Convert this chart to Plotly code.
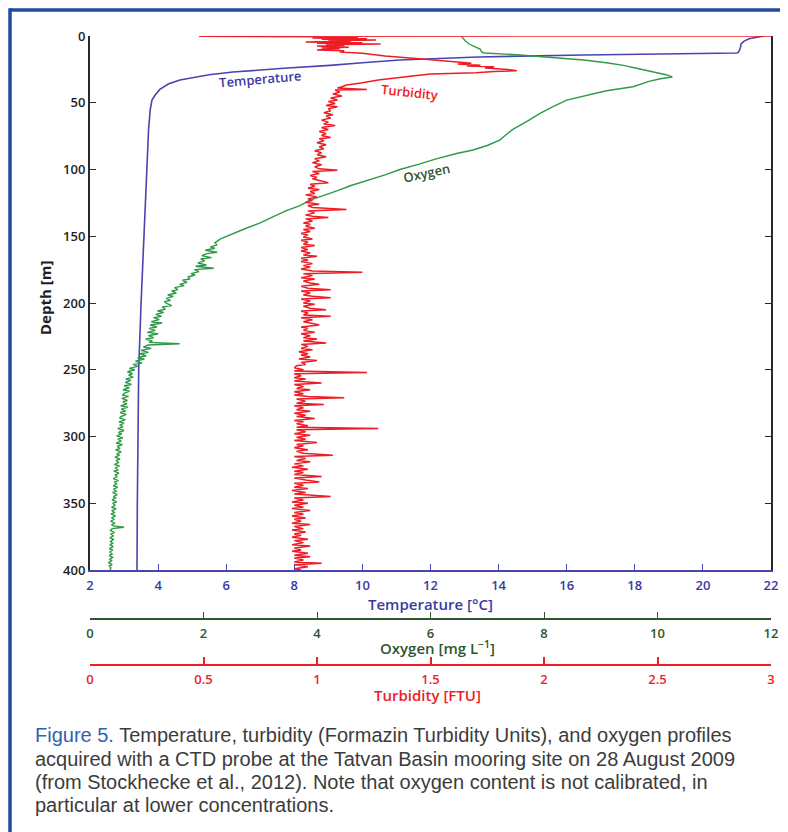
import plotly.graph_objects as go

# ---------------- data ----------------
temp_depth = [0, 2, 4, 6, 9, 12, 12.7, 13.3, 14.2, 15.7, 18, 20, 22, 24, 25.5, 27, 29, 31, 33,
              36, 40, 44, 48, 55, 70, 100, 122, 150, 200, 250, 300, 350, 400]
temp_c = [21.8, 21.35, 21.2, 21.12, 21.1, 21.05, 21.0, 19.0, 16.5, 13.4, 11.1, 10.0, 9.05, 7.8, 7.0,
          6.2, 5.5, 5.0, 4.64, 4.3, 4.05, 3.92, 3.82, 3.77, 3.72, 3.67, 3.63, 3.57, 3.5, 3.43, 3.4,
          3.39, 3.38]

oxygen_upper = [  # (depth m, oxygen mg/L), smooth upper part
    (0, 6.54), (2, 6.58), (4, 6.62), (6, 6.68), (8, 6.78), (9, 6.85), (10, 6.88), (12, 6.9),
    (12.7, 6.95), (14, 7.52), (16, 8.1), (18, 8.7), (20, 9.1), (22, 9.4), (24.7, 9.69), (27, 9.95),
    (29, 10.15), (30.7, 10.26), (32, 10.05), (34, 9.85), (36, 9.7), (38, 9.57), (41, 9.1), (44, 8.8),
    (48, 8.4), (53, 8.15), (58, 7.93), (64, 7.7), (70, 7.45), (74, 7.33), (78, 7.22), (82, 7.0),
    (85.4, 6.75), (88, 6.46), (92, 6.1), (96, 5.8), (100, 5.46), (104, 5.2), (108, 4.88), (112, 4.6),
    (116, 4.35), (120, 4.1), (123, 3.88), (127, 3.7), (131, 3.45), (135, 3.25), (140, 3.0),
    (144, 2.75), (148, 2.52), (152, 2.3), (155, 2.2),
]
oxygen_lower = [  # (depth m, oxygen mg/L), noisy deep part
    (156.5, 2.24), (158, 2.12), (159, 2.2), (160.5, 2.03), (162, 2.24), (163, 2.06), (164.5, 1.97),
    (166, 2.14), (167, 1.95), (168.5, 2.02), (170, 1.9), (171.5, 2.05), (172.5, 1.86),
    (174, 2.18), (175, 1.84), (176.5, 1.92), (178, 1.78), (179, 1.85), (180.5, 1.73), (182, 1.76),
    (183, 1.63), (184.5, 1.71), (186, 1.58), (187, 1.66), (188.5, 1.49), (190, 1.55), (191, 1.44),
    (192.5, 1.52), (194, 1.37), (195, 1.47), (196.5, 1.34), (198, 1.42), (199, 1.31), (200.5, 1.36),
    (202, 1.44), (203, 1.27), (204.5, 1.33), (206, 1.19), (207, 1.3), (208.5, 1.16), (210, 1.26),
    (211, 1.12), (212.5, 1.22), (214, 1.08), (215, 1.27), (216.5, 1.06), (218, 1.18), (219, 1.04),
    (220.5, 1.15), (222, 1.01), (223, 1.2), (224.5, 1.03), (226, 1.12), (227, 0.98), (228.5, 1.1),
    (229.5, 1.04), (230.5, 1.58), (231.5, 1.02), (233, 0.94), (234, 1.08), (235.5, 0.9),
    (237, 1.03), (238, 0.88), (239.5, 0.99), (241, 0.84), (242, 0.96), (243.5, 0.8), (245, 0.92),
    (246, 0.76), (247.5, 0.84), (249, 0.69), (250, 0.79), (251.5, 0.66), (253, 0.75), (254, 0.68),
    (255.5, 0.76), (257, 0.63), (258, 0.72), (259.5, 0.62), (261, 0.73), (262, 0.6), (263.5, 0.69),
    (265, 0.58), (266, 0.7), (267.5, 0.61), (269, 0.57), (270, 0.68), (271.5, 0.56), (273, 0.66),
    (274, 0.58), (275.5, 0.65), (277, 0.54), (278, 0.67), (279.5, 0.55), (281, 0.63), (282, 0.53),
    (283.5, 0.64), (285, 0.55), (286, 0.52), (287.5, 0.62), (289, 0.51), (290, 0.6), (291.5, 0.53),
    (293, 0.58), (294, 0.49), (295.5, 0.6), (297, 0.5), (298, 0.56), (299.5, 0.47), (301, 0.58),
    (302, 0.49), (303.5, 0.55), (305, 0.46), (306, 0.57), (307.5, 0.48), (309, 0.53), (310, 0.45),
    (311.5, 0.55), (313, 0.47), (314, 0.52), (315.5, 0.44), (317, 0.53), (318, 0.46), (319.5, 0.5),
    (321, 0.43), (322, 0.52), (323.5, 0.45), (325, 0.49), (326, 0.42), (327.5, 0.51), (329, 0.44),
    (330, 0.48), (331.5, 0.41), (333, 0.5), (334, 0.43), (335.5, 0.47), (337, 0.41), (338, 0.49),
    (339.5, 0.42), (341, 0.46), (342, 0.4), (343.5, 0.48), (345, 0.41), (346, 0.45), (347.5, 0.39),
    (349, 0.47), (350, 0.4), (351.5, 0.44), (353, 0.38), (354, 0.46), (355.5, 0.39), (357, 0.43),
    (358, 0.37), (359.5, 0.45), (361, 0.38), (362, 0.42), (363.5, 0.37), (365, 0.44), (366, 0.38),
    (367, 0.41), (368, 0.6), (369, 0.39), (370.5, 0.36), (372, 0.43), (373, 0.37), (374.5, 0.41),
    (376, 0.35), (377, 0.42), (378.5, 0.36), (380, 0.4), (381, 0.35), (382.5, 0.41), (384, 0.34),
    (385, 0.4), (386.5, 0.35), (388, 0.39), (389, 0.34), (390.5, 0.4), (392, 0.35), (393, 0.38),
    (394.5, 0.33), (396, 0.39), (397, 0.34), (398.5, 0.37), (400, 0.35),
]

turbidity_upper = [  # (depth m, turbidity FTU), surface layer and peak
    (0.0, 3.0), (0.2, 0.48), (0.5, 1.05), (1, 1.18), (1.5, 0.98), (2, 1.22), (2.5, 1.02), (3, 1.26),
    (3.5, 1.05), (4, 1.15), (4.5, 0.95), (5, 1.2), (5.5, 1.0), (6, 1.28), (6.5, 1.04), (7, 1.12),
    (7.5, 1.0), (8, 1.08), (8.5, 1.14), (9, 1.02), (9.5, 1.1), (10, 1.06), (10.5, 1.0), (11, 1.12),
    (12, 1.1), (13, 1.2), (15, 1.3), (17, 1.45), (18.5, 1.55), (19.5, 1.6), (20.5, 1.68), (21, 1.62),
    (22, 1.72), (22.5, 1.66), (23, 1.78), (24, 1.74), (25, 1.84), (26, 1.88), (26.5, 1.78),
    (27.5, 1.7), (28.5, 1.5), (30, 1.42), (31.5, 1.34), (33, 1.27), (35, 1.2), (36.7, 1.13),
    (38, 1.11), (39, 1.09), (40, 1.22), (40.5, 1.08),
]
turbidity_lower = [  # (depth m, turbidity FTU), noisy deep part with spikes
    (42, 1.10), (43.5, 1.07), (45, 1.11), (46.5, 1.06), (48, 1.09), (49, 1.05), (50.5, 1.08),
    (52, 1.04), (53, 1.09), (54.5, 1.05), (56, 1.06), (57.5, 1.03), (59, 1.07), (60, 1.04),
    (61.5, 1.06), (63, 1.02), (64.5, 1.05), (66, 1.03), (67, 1.08), (68.5, 1.02), (70, 1.05),
    (71.5, 1.01), (73, 1.04), (74.5, 1.02), (76, 1.06), (77, 1.01), (78.5, 1.03), (80, 1.0),
    (81.5, 1.04), (83, 1.01), (84.5, 1.03), (86, 0.99), (87.5, 1.02), (89, 1.0), (90.5, 1.04),
    (92, 0.99), (93.5, 1.01), (95, 0.98), (96.5, 1.02), (98, 0.99), (99.5, 1.01), (100.5, 1.09),
    (101.5, 0.98), (103, 1.01), (104.5, 0.97), (106, 1.0), (107, 0.98), (108.5, 1.02), (110, 1.05),
    (111, 0.97), (112.5, 0.99), (114, 0.96), (115, 1.01), (116.5, 0.97), (118, 0.99), (119, 0.95),
    (120.5, 1.0), (122, 0.96), (123, 0.98), (124.5, 0.95), (126, 1.01), (127, 0.96), (128.5, 0.98),
    (130, 1.13), (131, 0.96), (132.5, 0.99), (134, 0.95), (135, 0.98), (136, 1.05), (137, 0.95),
    (138.5, 0.98), (140, 0.94), (141, 0.97), (142.5, 0.95), (144, 0.99), (145, 0.94), (146.5, 0.97),
    (148, 0.93), (149, 0.96), (150.5, 0.94), (152, 0.98), (153, 0.93), (154.5, 0.96), (156, 0.94),
    (157, 0.99), (158.5, 0.93), (160, 0.96), (161, 0.93), (162.5, 0.97), (164, 0.94), (165, 1.0),
    (166.5, 0.93), (168, 0.96), (169, 0.93), (170.5, 0.98), (172, 0.94), (173, 0.97), (174.5, 0.93),
    (176, 0.98), (177, 1.2), (178, 0.94), (179.5, 0.98), (181, 0.93), (182, 0.99), (183.5, 0.94),
    (185, 0.97), (186, 1.01), (187.5, 0.93), (189, 0.96), (190, 1.06), (191, 0.93), (192.5, 0.97),
    (194, 0.94), (195, 0.98), (196, 1.06), (197, 0.93), (198.5, 0.97), (200, 0.94), (201, 0.99),
    (202.5, 0.94), (204, 0.97), (205, 1.04), (206, 0.93), (207.5, 0.96), (209, 0.94), (210, 1.06),
    (211, 0.93), (212.5, 0.98), (214, 0.94), (215, 0.97), (216.5, 1.01), (218, 0.93), (219, 0.96),
    (220.5, 0.94), (222, 0.99), (223, 0.93), (224.5, 0.97), (226, 0.94), (227, 1.0), (228.5, 0.94),
    (230, 1.04), (231, 0.93), (232.5, 0.96), (234, 0.93), (235, 0.98), (236.5, 0.92), (238, 0.96),
    (239, 0.93), (240.5, 0.97), (242, 0.92), (243, 1.0), (244.5, 0.93), (246, 0.95), (247, 0.91),
    (248.5, 0.9), (250, 0.94), (251, 0.9), (252, 1.22), (253, 0.9), (254.5, 0.93), (256, 0.9),
    (257, 0.95), (258.5, 0.9), (260, 1.02), (261, 0.9), (262.5, 0.94), (264, 0.91), (265, 0.97),
    (266.5, 0.9), (268, 0.94), (269, 0.9), (270, 0.96), (271, 1.12), (272, 0.91), (273.5, 0.95),
    (275, 0.91), (276, 1.03), (277, 0.9), (278.5, 0.94), (280, 0.91), (281, 0.97), (282.5, 0.9),
    (284, 0.95), (285, 0.91), (286.5, 0.99), (288, 0.9), (289, 0.94), (290.5, 0.91), (292, 0.96),
    (293, 0.91), (294, 1.27), (295, 0.91), (296.5, 0.95), (298, 0.9), (299, 0.97), (300.5, 0.91),
    (302, 0.95), (303, 0.9), (304.5, 1.0), (306, 0.91), (307, 0.94), (308.5, 0.9), (310, 0.96),
    (311, 0.91), (312.5, 0.94), (314, 1.07), (315, 0.9), (316.5, 0.95), (318, 0.91), (319, 0.97),
    (320.5, 0.9), (322, 0.94), (323, 0.89), (324.5, 0.96), (326, 0.9), (327, 0.94), (328.5, 0.9),
    (330, 1.02), (331, 0.9), (332.5, 0.95), (334, 1.01), (335, 0.9), (336.5, 0.94), (338, 0.9),
    (339, 0.96), (340.5, 0.89), (342, 0.95), (343, 0.9), (344, 0.98), (345, 1.06), (346, 0.9),
    (347.5, 0.94), (349, 0.89), (350, 0.96), (351.5, 0.9), (353, 0.94), (354, 0.89), (355.5, 0.97),
    (357, 0.9), (358, 0.94), (359.5, 0.89), (361, 0.95), (362, 0.9), (363.5, 0.93), (365, 0.89),
    (366, 0.97), (367.5, 0.9), (369, 0.94), (370, 0.89), (371.5, 0.95), (373, 0.9), (374, 0.93),
    (375.5, 0.89), (377, 0.96), (378, 0.9), (379.5, 0.94), (381, 0.89), (382, 0.97), (383.5, 0.9),
    (385, 0.93), (386, 0.89), (387.5, 0.96), (389, 0.9), (390, 0.97), (391, 0.9), (392.5, 0.94),
    (394, 0.9), (395, 1.02), (396, 0.9), (397.5, 0.96), (399, 0.9), (400, 0.93),
]

temp_ticks = [2, 4, 6, 8, 10, 12, 14, 16, 18, 20, 22]
oxygen_ticks = [0, 2, 4, 6, 8, 10, 12]
turb_ticks = [0, 0.5, 1, 1.5, 2, 2.5, 3]
turb_ticklabels = ["0", "0.5", "1", "1.5", "2", "2.5", "3"]
depth_ticks = [0, 50, 100, 150, 200, 250, 300, 350, 400]

caption_lines = [
    "<span style='color:#2f62b0'>Figure 5.</span> Temperature, turbidity (Formazin Turbidity Units), and oxygen profiles",
    "acquired with a CTD probe at the Tatvan Basin mooring site on 28 August 2009",
    "(from Stockhecke et al., 2012). Note that oxygen content is not calibrated, in",
    "particular at lower concentrations.",
]

# ---------------- layout geometry ----------------
# the page body adds an 8 px margin, so the figure is shifted by 8 px
OFF = 8
W, H = 788 - OFF, 832 - OFF
ML, MT, MB = 90 - OFF, 36 - OFF, 110
MR = W - (771 - OFF)
PW = W - ML - MR
PH = H - MT - MB
PLOT_BOTTOM = 570


def fx(px):  # reference page pixel -> paper fraction
    return (px - OFF - ML) / PW


def fy(py):
    return (H - MB - (py - OFF)) / PH


TEMP_C = "#4a44b0"
TEMP_TXT = "#3b3aa3"
OXY_C = "#2e9a45"
OXY_TXT = "#2f552f"
TURB_C = "#ee1c25"
DARK = "#2a2a2a"
FONT = "Open Sans"

ox_d, ox_v = zip(*(oxygen_upper + oxygen_lower))
tu_d, tu_v = zip(*(turbidity_upper + turbidity_lower))

fig = go.Figure()
fig.add_trace(go.Scatter(x=temp_c, y=temp_depth, mode="lines", xaxis="x", yaxis="y",
                         line=dict(color=TEMP_C, width=1.6), showlegend=False))
fig.add_trace(go.Scatter(x=list(ox_v), y=list(ox_d), mode="lines", xaxis="x2", yaxis="y",
                         line=dict(color=OXY_C, width=1.4), showlegend=False))
fig.add_trace(go.Scatter(x=list(tu_v), y=list(tu_d), mode="lines", xaxis="x3", yaxis="y",
                         line=dict(color=TURB_C, width=1.5), showlegend=False))

tickfont_common = dict(family=FONT, size=13, weight=600)

fig.update_layout(
    width=W, height=H,
    margin=dict(l=ML, r=MR, t=MT, b=MB, autoexpand=False),
    paper_bgcolor="white", plot_bgcolor="white",
    xaxis=dict(range=[2, 22], domain=[0, 1], anchor="y", side="bottom",
               tickvals=temp_ticks, ticks="inside", ticklen=6, tickwidth=1.3, tickcolor=TEMP_C,
               showline=True, linecolor=TEMP_C, linewidth=2, showgrid=False, zeroline=False,
               tickfont=dict(color=TEMP_TXT, **tickfont_common), ticklabelstandoff=2,
               automargin=False),
    xaxis4=dict(range=[2, 22], overlaying="x", anchor="y", side="top",
                tickvals=temp_ticks, ticks="inside", ticklen=6, tickwidth=1.3, tickcolor=DARK,
                showline=True, linecolor=DARK, linewidth=2, showgrid=False, zeroline=False,
                showticklabels=False, automargin=False),
    xaxis2=dict(range=[0, 12], overlaying="x", anchor="free", position=fy(619), side="bottom",
                tickvals=oxygen_ticks, ticks="inside", ticklen=6, tickwidth=1.3, tickcolor=OXY_TXT,
                showline=True, linecolor=OXY_TXT, linewidth=1.5, showgrid=False, zeroline=False,
                tickfont=dict(color=OXY_TXT, **tickfont_common), ticklabelstandoff=3,
                automargin=False),
    xaxis3=dict(range=[0, 3], overlaying="x", anchor="free", position=fy(665), side="bottom",
                tickvals=turb_ticks, ticktext=turb_ticklabels, ticks="inside", ticklen=7,
                tickwidth=1.5, tickcolor=TURB_C,
                showline=True, linecolor=TURB_C, linewidth=1.5, showgrid=False, zeroline=False,
                tickfont=dict(color=TURB_C, **tickfont_common), ticklabelstandoff=3,
                automargin=False),
    yaxis=dict(range=[400, 0], domain=[fy(PLOT_BOTTOM), 1], anchor="x",
               tickvals=depth_ticks, ticks="inside", ticklen=6, tickwidth=1.3, tickcolor=DARK,
               showline=True, linecolor=DARK, linewidth=2, mirror="ticks", showgrid=False,
               zeroline=False, tickfont=dict(color="#1e1e1e", **tickfont_common),
               automargin=False),
)


def label(text, px, py, color, size=15, weight=600, angle=0, family=FONT):
    return dict(text=text, x=fx(px), y=fy(py), xref="paper", yref="paper",
                xanchor="center", yanchor="middle", showarrow=False, textangle=angle,
                font=dict(family=family, size=size, color=color, weight=weight))


ann = [
    label("Temperature [°C]", 430, 604, TEMP_TXT),
    label("Oxygen [mg L<sup>−1</sup>]", 437, 647, OXY_TXT),
    label("Turbidity [FTU]", 427, 695, TURB_C),
    label("Depth [m]", 45, 298, "#1e1e1e", weight=700, angle=-90),
    label("Temperature", 260, 79, TEMP_TXT, size=13, angle=-5),
    label("Turbidity", 409, 92, TURB_C, size=13, angle=6),
    label("Oxygen", 426, 173, OXY_TXT, size=13, angle=-12),
]
cap_y = [735, 759, 782, 805]
for line, py in zip(caption_lines, cap_y):
    ann.append(dict(text=line, x=fx(33), y=fy(py), xref="paper", yref="paper",
                    xanchor="left", yanchor="middle", showarrow=False,
                    font=dict(family="Liberation Sans", size=20, color="#3c3c3c")))
fig.update_layout(annotations=ann)

# frame
BLUE = "#1f4e9e"
fig.update_layout(shapes=[
    dict(type="line", xref="paper", yref="paper", x0=fx(10), y0=fy(10), x1=fx(820), y1=fy(10),
         line=dict(color=BLUE, width=3.5)),
    dict(type="line", xref="paper", yref="paper", x0=fx(10), y0=fy(8.3), x1=fx(10), y1=fy(860),
         line=dict(color=BLUE, width=3.5)),
])

fig.write_html("out.html")
